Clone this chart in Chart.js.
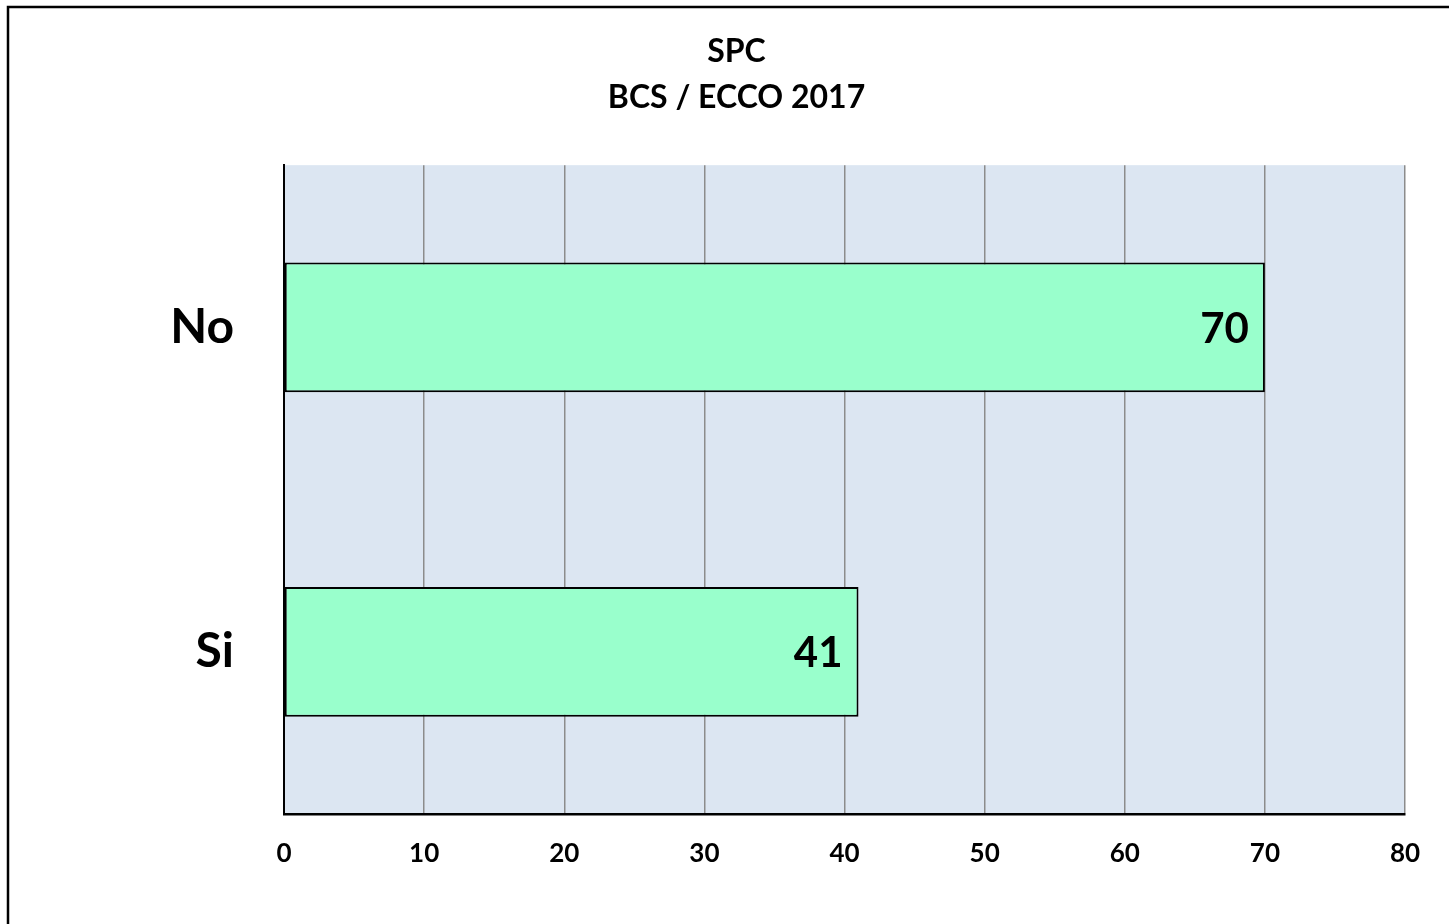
<!DOCTYPE html>
<html>
<head>
<meta charset="utf-8">
<script src="https://cdn.jsdelivr.net/npm/chart.js@4"></script>
<style>
  html, body { margin: 0; padding: 0; background: #fff; }
  #wrap { width: 1449px; height: 924px; position: relative; }
</style>
</head>
<body>
<div id="wrap"><canvas id="spcChart" width="1449" height="924"></canvas></div>
<script>
// Data
const categories = ['No', 'Si'];
const answers = [70, 41];
const titleLines = ['SPC', 'BCS / ECCO 2017'];
const xTicks = { min: 0, max: 80, step: 10 };

const FONT = "Lato, 'Open Sans', sans-serif";

// white page + outer frame + plot background
const framePlugin = {
    id: 'framePlugin',
    beforeDraw(chart) {
        const c = chart.ctx;
        const a = chart.chartArea;
        c.save();
        c.fillStyle = '#ffffff';
        c.fillRect(0, 0, chart.width, chart.height);
        c.strokeStyle = '#000000';
        c.lineWidth = 2.5;
        c.strokeRect(8, 7, chart.width + 20, chart.height + 20);
        c.fillStyle = '#dce6f2';
        c.fillRect(a.left, a.top, a.right - a.left, a.bottom - a.top);
        c.restore();
    }
};

// value labels at the inner end of each bar
const valueLabels = {
    id: 'valueLabels',
    afterDatasetsDraw(chart) {
        const c = chart.ctx;
        const meta = chart.getDatasetMeta(0);
        c.save();
        c.font = 'bold 42px ' + FONT;
        c.fillStyle = '#000';
        c.textAlign = 'right';
        c.textBaseline = 'middle';
        meta.data.forEach((bar, i) => {
            c.fillText(String(chart.data.datasets[0].data[i]), bar.x - 16, bar.y + 2);
        });
        c.restore();
    }
};

new Chart(document.getElementById('spcChart'), {
    type: 'bar',
    data: {
        labels: categories,
        datasets: [{
            data: answers,
            backgroundColor: '#99ffcc',
            borderColor: '#000000',
            borderWidth: 2,
            borderSkipped: false,
            barPercentage: 0.4,
            categoryPercentage: 1.0
        }]
    },
    options: {
        indexAxis: 'y',
        responsive: false,
        animation: false,
        layout: { padding: { top: 0, right: 44, bottom: 0, left: 68 } },
        plugins: {
            legend: { display: false },
            tooltip: { enabled: false },
            title: {
                display: true,
                text: titleLines,
                color: '#000',
                font: { family: FONT, size: 32, weight: 'bold', lineHeight: 1.44 },
                padding: { top: 29, bottom: 44 }
            }
        },
        scales: {
            x: {
                min: xTicks.min,
                max: xTicks.max,
                ticks: {
                    stepSize: xTicks.step,
                    color: '#000',
                    padding: 24,
                    font: { family: FONT, size: 26, weight: 'bold' }
                },
                grid: { color: '#8c8c8c', lineWidth: 1.5, drawTicks: false },
                border: { color: '#000', width: 2.5 },
                afterFit(scale) { scale.height = 110; }
            },
            y: {
                ticks: {
                    color: '#000',
                    padding: 50,
                    font: { family: FONT, size: 48, weight: 'bold' }
                },
                grid: { display: false, drawTicks: false },
                border: { color: '#000', width: 2 },
                afterFit(scale) { scale.width = 216; }
            }
        }
    },
    plugins: [framePlugin, valueLabels]
});
</script>
</body>
</html>
